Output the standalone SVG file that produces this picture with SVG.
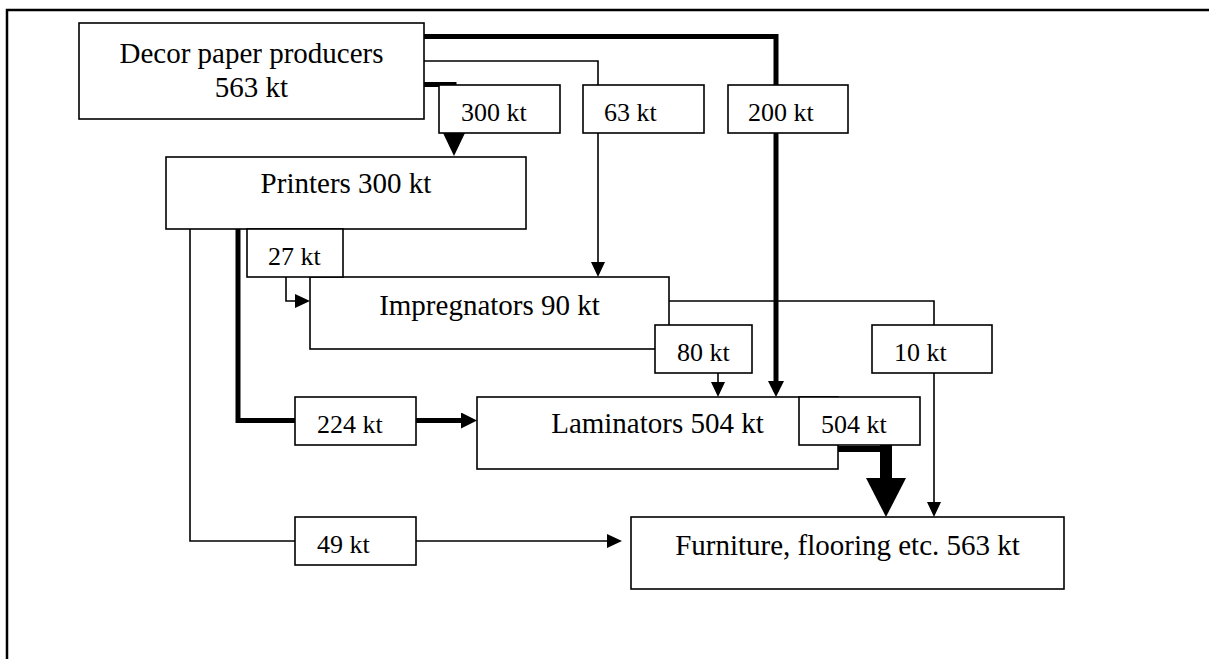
<svg xmlns="http://www.w3.org/2000/svg" width="1209" height="659" viewBox="0 0 1209 659">
  <style>
    .box { fill: #ffffff; stroke: #000000; stroke-width: 1.6; }
    .thin { fill: none; stroke: #000000; stroke-width: 1.6; }
    .thick { fill: none; stroke: #000000; stroke-width: 5; }
    .head { fill: #000000; stroke: none; }
    .node { font-family: "Liberation Serif", "Times New Roman", serif; font-size: 29px; fill: #000000; text-anchor: middle; }
    .lbl { font-family: "Liberation Serif", "Times New Roman", serif; font-size: 26px; fill: #000000; }
    .frame { fill: none; stroke: #000000; stroke-width: 2.5; }
  </style>
  <defs>
    <marker id="ah" viewBox="0 0 15 14" refX="12" refY="7" markerWidth="15" markerHeight="14" markerUnits="userSpaceOnUse" orient="auto">
      <path d="M0,0 L15,7 L0,14 z" fill="#000000"/>
    </marker>
    <marker id="ahThick" viewBox="0 0 16 16" refX="11" refY="8" markerWidth="16" markerHeight="16" markerUnits="userSpaceOnUse" orient="auto">
      <path d="M0,0 L16,8 L0,16 z" fill="#000000"/>
    </marker>
  </defs>

  <rect width="1209" height="659" fill="#ffffff"/>
  <path class="frame" d="M7,659 V10 H1209"/>

  <g id="connectors">
    <!-- Decor -> Printers 300 kt -->
    <path class="thick" d="M424,84.5 H454 V134"/>
    <polygon class="head" points="443,133 465,133 454,156"/>
    <!-- Decor -> Impregnators 63 kt -->
    <path class="thin" d="M424,61 H598 V274" marker-end="url(#ah)"/>
    <!-- Decor -> Laminators 200 kt -->
    <path class="thick" d="M424,36.5 H776 V392" marker-end="url(#ahThick)"/>
    <!-- Printers -> Impregnators 27 kt -->
    <path class="thin" d="M286,277 V301 H307" marker-end="url(#ah)"/>
    <!-- Printers -> Laminators 224 kt -->
    <path class="thick" d="M238,229 V420.5 H472" marker-end="url(#ahThick)"/>
    <!-- Printers -> Furniture 49 kt -->
    <path class="thin" d="M190,229 V541 H619" marker-end="url(#ah)"/>
    <!-- Impregnators -> Laminators 80 kt -->
    <path class="thin" d="M718,373 V394" marker-end="url(#ah)"/>
    <!-- Impregnators -> Furniture 10 kt -->
    <path class="thin" d="M669,301 H934 V514" marker-end="url(#ah)"/>
    <!-- Laminators -> Furniture 504 kt -->
    <path fill="none" stroke="#000000" stroke-width="6" d="M838,449 H889"/>
    <path fill="none" stroke="#000000" stroke-width="12" d="M886,445 V479"/>
    <polygon class="head" points="866,478 906,478 886,517"/>
  </g>

  <g id="decor">
    <rect class="box" x="79" y="23" width="345" height="96"/>
    <text class="node" x="251.5" y="63">Decor paper producers</text>
    <text class="node" x="251.5" y="97">563 kt</text>
  </g>
  <g id="printers">
    <rect class="box" x="166" y="157" width="360" height="72"/>
    <text class="node" x="346" y="193">Printers 300 kt</text>
  </g>
  <g id="impregnators">
    <rect class="box" x="310" y="277" width="359" height="72"/>
    <text class="node" x="489.5" y="315">Impregnators 90 kt</text>
  </g>
  <g id="laminators">
    <rect class="box" x="477" y="397" width="361" height="72"/>
    <text class="node" x="657.5" y="433">Laminators 504 kt</text>
  </g>
  <g id="furniture">
    <rect class="box" x="631" y="517" width="433" height="72"/>
    <text class="node" x="847.5" y="555">Furniture, flooring etc. 563 kt</text>
  </g>

  <g id="labels">
    <g id="label-300"><rect class="box" x="439" y="85" width="121" height="48"/><text class="lbl" x="461" y="121">300 kt</text></g>
    <g id="label-63"><rect class="box" x="583" y="85" width="121" height="48"/><text class="lbl" x="604" y="121">63 kt</text></g>
    <g id="label-200"><rect class="box" x="728" y="85" width="120" height="48"/><text class="lbl" x="748" y="121">200 kt</text></g>
    <g id="label-27"><rect class="box" x="247" y="229" width="96" height="48"/><text class="lbl" x="268" y="265">27 kt</text></g>
    <g id="label-80"><rect class="box" x="655" y="325" width="97" height="48"/><text class="lbl" x="677" y="361">80 kt</text></g>
    <g id="label-10"><rect class="box" x="872" y="325" width="120" height="48"/><text class="lbl" x="894" y="361">10 kt</text></g>
    <g id="label-224"><rect class="box" x="295" y="397" width="121" height="48"/><text class="lbl" x="317" y="433">224 kt</text></g>
    <g id="label-504"><rect class="box" x="799" y="397" width="121" height="48"/><text class="lbl" x="821" y="433">504 kt</text></g>
    <g id="label-49"><rect class="box" x="295" y="517" width="121" height="48"/><text class="lbl" x="317" y="553">49 kt</text></g>
  </g>
</svg>
